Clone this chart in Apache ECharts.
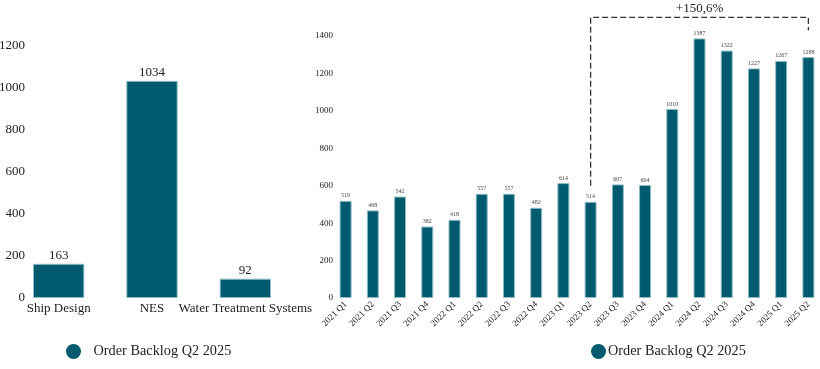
<!DOCTYPE html>
<html><head><meta charset="utf-8">
<script src="https://cdn.jsdelivr.net/npm/echarts@6/dist/echarts.min.js"></script>
<style>html,body{margin:0;padding:0;background:#fff}#c{width:820px;height:369px}</style>
</head><body><div id="c"></div>
<script>
const segCategories = ['Ship Design', 'NES', 'Water Treatment Systems'];
const segValues = [163, 1034, 92];
const quarters = ['2021 Q1','2021 Q2','2021 Q3','2021 Q4','2022 Q1','2022 Q2','2022 Q3','2022 Q4','2023 Q1','2023 Q2','2023 Q3','2023 Q4','2024 Q1','2024 Q2','2024 Q3','2024 Q4','2025 Q1','2025 Q2'];
const quarterValues = [519, 468, 542, 382, 418, 557, 557, 482, 614, 514, 607, 604, 1010, 1387, 1322, 1227, 1267, 1288];
const seriesName = 'Order Backlog Q2 2025';
const annotation = { from: '2023 Q2', to: '2025 Q2', text: '+150,6%', top: 1500, fromBottom: 600, toBottom: 1430, textAt: 1545 };

const FONT = '"Liberation Serif", "Times New Roman", serif';
const BAR = '#015a6d';
const plain = v => String(v);
const chart = echarts.init(document.getElementById('c'), null, {renderer: 'canvas'});
chart.setOption({
  animation: false,
  textStyle: { fontFamily: FONT },
  legend: [
    { data: [seriesName], left: 61, top: 339, icon: 'circle', itemWidth: 30, itemHeight: 15, symbolKeepAspect: true,
      itemStyle: { borderWidth: 0 },
      textStyle: { fontFamily: FONT, fontSize: 14.3, color: '#222' } },
    { data: [seriesName], left: 586, top: 339, icon: 'circle', itemWidth: 15, itemHeight: 15,
      itemStyle: { borderWidth: 0 },
      textStyle: { fontFamily: FONT, fontSize: 14.3, color: '#222', padding: [0, 0, 0, -3] } }
  ],
  grid: [
    { left: 12, width: 280, top: 46, bottom: 71, outerBoundsMode: 'none', containLabel: false },
    { left: 332, width: 490, top: 36, bottom: 71, outerBoundsMode: 'none', containLabel: false }
  ],
  xAxis: [
    { type: 'category', gridIndex: 0, data: segCategories,
      axisLine: { show: false }, axisTick: { show: false },
      axisLabel: { fontFamily: FONT, fontSize: 13, color: '#222', margin: 4, interval: 0 } },
    { type: 'category', gridIndex: 1, data: quarters,
      axisLine: { show: false }, axisTick: { show: false },
      axisLabel: { fontFamily: FONT, fontSize: 9, color: '#222', rotate: 45, margin: 5, interval: 0 } }
  ],
  yAxis: [
    { type: 'value', gridIndex: 0, min: 0, max: 1200, interval: 200,
      splitLine: { show: false }, axisLine: { show: false }, axisTick: { show: false },
      axisLabel: { fontFamily: FONT, fontSize: 13, color: '#222', margin: -13, formatter: plain } },
    { type: 'value', gridIndex: 1, min: 0, max: 1400, interval: 200,
      splitLine: { show: false }, axisLine: { show: false }, axisTick: { show: false },
      axisLabel: { fontFamily: FONT, fontSize: 9, color: '#222', margin: -1, formatter: plain } }
  ],
  series: [
    { name: seriesName, type: 'bar', xAxisIndex: 0, yAxisIndex: 0, data: segValues, barWidth: '55%',
      itemStyle: { color: BAR, borderColor: '#8fbcc7', borderWidth: 1 },
      label: { show: true, position: 'top', distance: 2, fontFamily: FONT, fontSize: 13, color: '#222' } },
    { name: seriesName, type: 'bar', xAxisIndex: 1, yAxisIndex: 1, data: quarterValues, barWidth: '44%',
      itemStyle: { color: BAR, borderColor: '#8fbcc7', borderWidth: 1 },
      label: { show: true, position: 'top', distance: 2, fontFamily: FONT, fontSize: 6, color: '#444' } }
  ]
});

function px(cat, val) { return chart.convertToPixel({ xAxisIndex: 1, yAxisIndex: 1 }, [cat, val]); }
const a = px(annotation.from, annotation.fromBottom);
const b = px(annotation.from, annotation.top);
const c = px(annotation.to, annotation.top);
const d = px(annotation.to, annotation.toBottom);
const t = px(annotation.to, annotation.textAt);
const mid = (b[0] + c[0]) / 2;
chart.setOption({
  graphic: [
    { type: 'polyline', shape: { points: [a, b, c, d] },
      style: { stroke: '#333', lineWidth: 1.3, lineDash: [6, 3], fill: null } },
    { type: 'text', x: mid, y: t[1], style: { text: annotation.text, font: '13px ' + FONT, fill: '#222', align: 'center', verticalAlign: 'middle' } }
  ]
});
</script></body></html>
